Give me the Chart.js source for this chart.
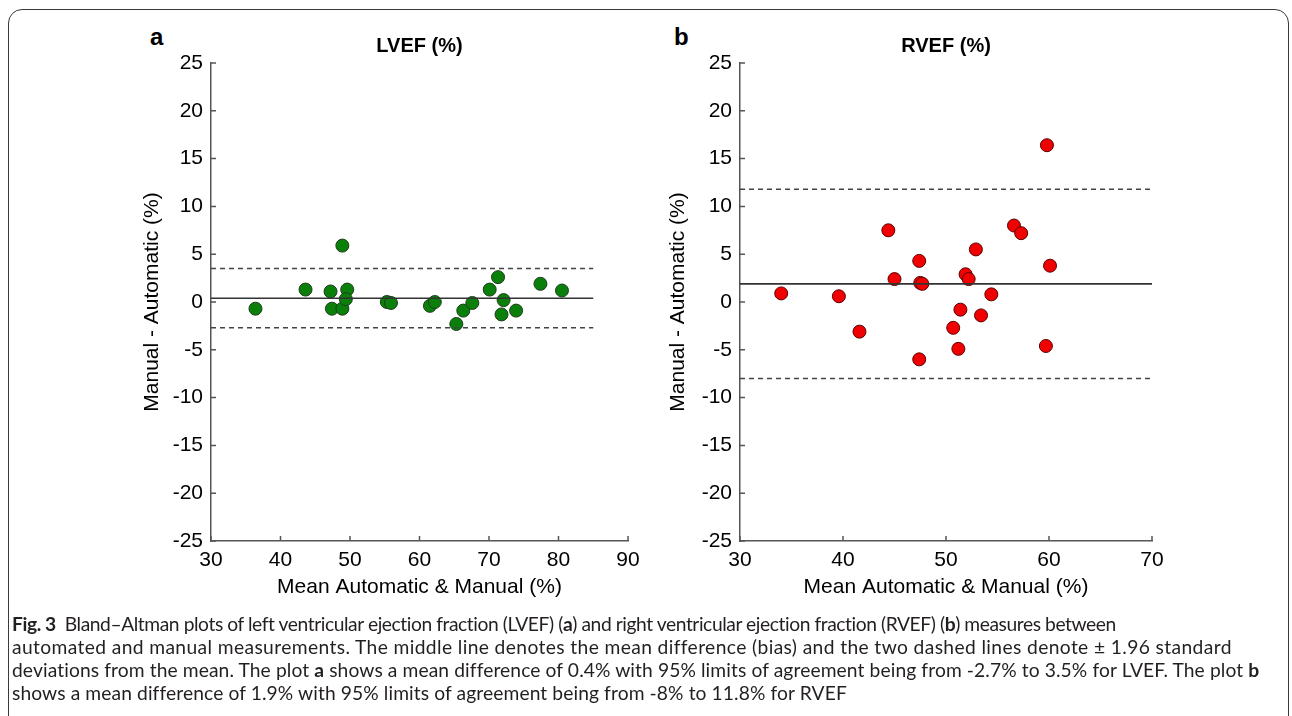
<!DOCTYPE html>
<html>
<head>
<meta charset="utf-8">
<script src="https://cdn.jsdelivr.net/npm/chart.js@4"></script>
<style>
  html, body { margin: 0; padding: 0; background: #fff; }
  body { width: 1292px; height: 716px; position: relative; overflow: hidden; }
  .frame { position: absolute; left: 8px; top: 9px; width: 1279px; height: 760px;
           border: 1.5px solid #3a3a3a; border-radius: 14px; }
  .panel { position: absolute; }
  .tag { position: absolute; font: bold 24px 'Liberation Sans', Arial, sans-serif; color: #000; }
  .caption { position: absolute; left: 12px; top: 612px; color: #231f20;
             font-family: Lato, 'Open Sans', sans-serif;
             font-size: 17.5px; line-height: 23px; }
  .caption div { white-space: nowrap; }
  .caption span.ln { display: inline-block; }
  .caption b { font-weight: 700; }
</style>
</head>
<body>
<div class="frame"></div>
<div class="tag" style="left:150px; top:23px;">a</div>
<div class="tag" style="left:674px; top:23px;">b</div>
<div class="panel" style="left:100px; top:0px; width:548px; height:615px;"><canvas id="chartLV"></canvas></div>
<div class="panel" style="left:640px; top:0px; width:536px; height:615px;"><canvas id="chartRV"></canvas></div>

<div class="caption" id="caption">
  <div><span class="ln" data-w="1105"><b>Fig. 3</b>&nbsp; Bland–Altman plots of left ventricular ejection fraction (LVEF) (<b>a</b>) and right ventricular ejection fraction (RVEF) (<b>b</b>) measures between</span></div>
  <div><span class="ln" data-w="1219">automated and manual measurements. The middle line denotes the mean difference (bias) and the two dashed lines denote ± 1.96 standard</span></div>
  <div><span class="ln" data-w="1247">deviations from the mean. The plot <b>a</b> shows a mean difference of 0.4% with 95% limits of agreement being from -2.7% to 3.5% for LVEF. The plot <b>b</b></span></div>
  <div><span class="ln" data-w="834">shows a mean difference of 1.9% with 95% limits of agreement being from -8% to 11.8% for RVEF</span></div>
</div>

<script>
// --- данные ---
const lvefMean = [36.4, 43.6, 47.2, 47.4, 48.9, 48.9, 49.6, 49.4, 55.3, 55.9, 61.5, 62.2, 65.3, 66.3, 67.6, 70.1, 71.3, 72.1, 71.8, 73.9, 77.4, 80.5];
const lvefDiff = [-0.7, 1.3, 1.1, -0.7, -0.7, 5.9, 1.3, 0.3, 0.0, -0.1, -0.4, 0.0, -2.3, -0.9, -0.1, 1.3, 2.6, 0.2, -1.3, -0.9, 1.9, 1.2];
const lvefBias = 0.4, lvefLow = -2.7, lvefHigh = 3.5;
const lvefLineEnd = 85;

const rvefMean = [34.0, 39.6, 41.6, 44.4, 45.0, 47.4, 47.5, 47.7, 47.4, 50.7, 51.2, 51.4, 51.9, 52.2, 52.9, 53.4, 54.4, 56.6, 57.3, 59.8, 60.1, 59.7];
const rvefDiff = [0.9, 0.6, -3.1, 7.5, 2.4, 4.3, 2.0, 1.9, -6.0, -2.7, -4.9, -0.8, 2.9, 2.4, 5.5, -1.4, 0.8, 8.0, 7.2, 16.4, 3.8, -4.6];
const rvefBias = 1.9, rvefLow = -8, rvefHigh = 11.8;
const rvefLineEnd = 70;

const yTicksMin = -25, yTicksMax = 25, yStep = 5;
const xStep = 10;

Chart.defaults.font.family = "'Liberation Sans', Arial, sans-serif";
Chart.defaults.color = '#000';

// короткие засечки внутрь, как в matlab
const innerTicks = {
    id: 'innerTicks',
    afterDraw(chart) {
        const { ctx, chartArea: a, scales: { x, y } } = chart;
        ctx.save();
        ctx.strokeStyle = '#555';
        ctx.lineWidth = 1.5;
        ctx.beginPath();
        x.ticks.forEach(t => {
            const px = x.getPixelForValue(t.value);
            ctx.moveTo(px, a.bottom); ctx.lineTo(px, a.bottom - 5);
        });
        y.ticks.forEach(t => {
            const py = y.getPixelForValue(t.value);
            ctx.moveTo(a.left, py); ctx.lineTo(a.left + 5, py);
        });
        ctx.stroke();
        ctx.restore();
    }
};

function hLine(yv, x0, x1, dashed) {
    return {
        type: 'line',
        data: [{ x: x0, y: yv }, { x: x1, y: yv }],
        borderColor: dashed ? '#444' : '#333',
        borderWidth: 1.6,
        borderDash: dashed ? [5, 4] : [],
        pointRadius: 0,
        fill: false
    };
}

function makeChart(id, opts) {
    const pts = opts.xs.map((v, i) => ({ x: v, y: opts.ys[i] }));
    return new Chart(document.getElementById(id), {
        type: 'scatter',
        data: {
            datasets: [
                hLine(opts.bias, 30, opts.lineEnd, false),
                hLine(opts.high, 30, opts.lineEnd, true),
                hLine(opts.low, 30, opts.lineEnd, true),
                {
                    type: 'scatter',
                    data: pts,
                    backgroundColor: opts.fill,
                    borderColor: opts.edge,
                    borderWidth: 1,
                    pointRadius: 6.5
                }
            ]
        },
        options: {
            responsive: true,
            maintainAspectRatio: false,
            animation: false,
            layout: { padding: { left: 0, right: opts.padRight, top: 0, bottom: 0 } },
            plugins: {
                legend: { display: false },
                tooltip: { enabled: false },
                title: {
                    display: true, text: opts.title, fullSize: false,
                    font: { size: 20, weight: 'bold' }, color: '#000',
                    padding: { top: 34, bottom: 5 }
                }
            },
            scales: {
                x: {
                    type: 'linear', min: 30, max: opts.xMax,
                    ticks: { stepSize: xStep, padding: 7, font: { size: 21 }, color: '#000' },
                    grid: { display: false, drawTicks: false },
                    border: { display: true, color: '#555', width: 1.5 },
                    title: { display: true, text: 'Mean Automatic & Manual (%)', font: { size: 21 }, color: '#000',
                             padding: { top: 0, bottom: 15 } },
                    afterFit(s) { s.height = 74; }
                },
                y: {
                    type: 'linear', min: yTicksMin, max: yTicksMax,
                    ticks: { stepSize: yStep, padding: 8, font: { size: 21 }, color: '#000' },
                    grid: { display: false, drawTicks: false },
                    border: { display: true, color: '#555', width: 1.5 },
                    title: { display: true, text: 'Manual - Automatic (%)', font: { size: 21 }, color: '#000',
                             padding: { top: opts.yTitlePad, bottom: 0 } },
                    afterFit(s) { s.width = opts.yWidth; }
                }
            }
        },
        plugins: [innerTicks]
    });
}

makeChart('chartLV', {
    xs: lvefMean, ys: lvefDiff, bias: lvefBias, low: lvefLow, high: lvefHigh, lineEnd: lvefLineEnd,
    xMax: 90, title: 'LVEF (%)', fill: '#0a7f0a', edge: '#1d3d1d',
    yWidth: 111, yTitlePad: 40, padRight: 20
});
makeChart('chartRV', {
    xs: rvefMean, ys: rvefDiff, bias: rvefBias, low: rvefLow, high: rvefHigh, lineEnd: rvefLineEnd,
    xMax: 70, title: 'RVEF (%)', fill: '#f00000', edge: '#5a0000',
    yWidth: 100, yTitlePad: 26, padRight: 24
});

// подпись: общий размер шрифта, потом добиваем каждую строку межбуквенным интервалом
const cap = document.getElementById('caption');
const lines = [...cap.querySelectorAll('.ln[data-w]')];
let ratioSum = 0, n = 0;
lines.slice(0, 3).forEach(el => {
    if (el.offsetWidth > 0) { ratioSum += (+el.dataset.w) / el.offsetWidth; n++; }
});
if (n) cap.style.fontSize = (17.5 * ratioSum / n).toFixed(2) + 'px';
lines.forEach(el => {
    const chars = el.textContent.length;
    const diff = (+el.dataset.w) - el.offsetWidth;
    if (chars > 0) el.style.letterSpacing = (diff / chars).toFixed(3) + 'px';
});
</script>
</body>
</html>
